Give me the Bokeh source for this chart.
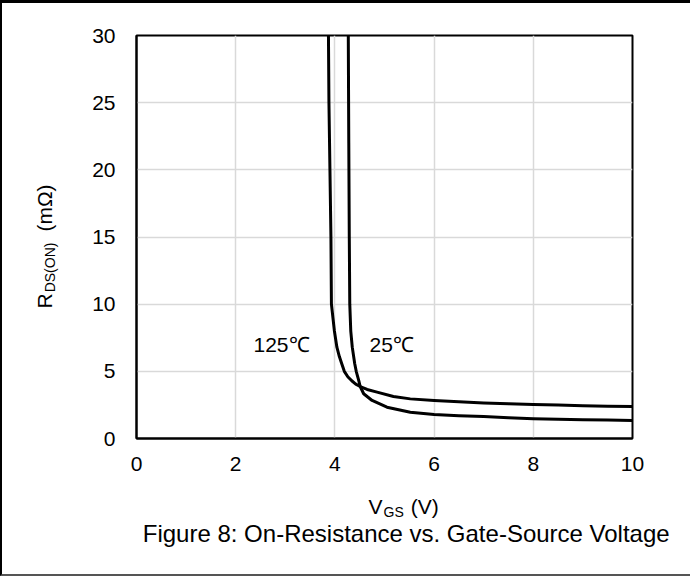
from bokeh.plotting import figure
from bokeh.models import Label, Range1d
from bokeh.embed import file_html
from bokeh.resources import INLINE

# ---- data ----
v_125 = [3.87, 3.88, 3.90, 3.92, 3.93, 3.96, 3.99, 4.04, 4.09, 4.14, 4.19, 4.26, 4.34, 4.42,
         4.51, 4.65, 4.85, 5.18, 5.52, 6.0, 6.5, 7.0, 7.5, 8.0, 8.5, 9.0, 9.5, 10.0]
r_125 = [30, 25, 20, 15, 10, 9.0, 8.0, 6.8, 6.1, 5.55, 5.0, 4.6, 4.3, 4.05,
         3.87, 3.65, 3.45, 3.13, 2.95, 2.83, 2.74, 2.64, 2.58, 2.53, 2.49, 2.44, 2.41, 2.38]
v_25 = [4.27, 4.28, 4.29, 4.30, 4.32, 4.35, 4.40, 4.43, 4.48, 4.51, 4.58, 4.75, 5.05, 5.52,
        6.0, 6.5, 7.0, 7.5, 8.0, 8.5, 9.0, 9.5, 10.0]
r_25 = [30, 22, 15, 10, 8.0, 6.8, 5.56, 5.0, 4.32, 3.87, 3.33, 2.83, 2.33, 1.96,
        1.79, 1.70, 1.63, 1.55, 1.47, 1.43, 1.40, 1.37, 1.34]
x_ticks = [0, 2, 4, 6, 8, 10]
y_ticks = [0, 5, 10, 15, 20, 25, 30]
series_labels = ["125℃", "25℃"]
title_text = "Figure 8: On-Resistance vs. Gate-Source Voltage"

FONT = "Liberation Sans"
TICK_FS = 21
LAB_FS = 21
SUB_FS = 14
TITLE_FS = 24
BASE_SHIFT = 8  # rendered labels sit this far below the requested baseline

CANVAS_X0, CANVAS_Y0 = 2, 3
W, H = 690, 576
MB_L, MB_R, MB_T, MB_B = 134, 60, 32, 141
FX0 = CANVAS_X0 + MB_L
FX1 = CANVAS_X0 + W - MB_R
FY0 = CANVAS_Y0 + MB_T
FY1 = CANVAS_Y0 + H - MB_B


def px2x(px):
    return (px - FX0) / (FX1 - FX0) * 10.0


def py2y(py):
    return (FY1 - py) / (FY1 - FY0) * 30.0


p = figure(width=W, height=H, x_range=Range1d(0, 10), y_range=Range1d(0, 30),
           output_backend="svg", toolbar_location=None,
           min_border_left=MB_L, min_border_right=MB_R,
           min_border_top=MB_T, min_border_bottom=MB_B)
p.styles = {"border-top": "3px solid black", "border-left": "2px solid black",
            "border-bottom": "2px solid #555555"}

p.outline_line_color = "black"
p.outline_line_width = 2
p.grid.grid_line_color = "#d9d9d9"
p.grid.grid_line_width = 1.5

for ax in (p.xaxis[0], p.yaxis[0]):
    ax.axis_line_color = "black"
    ax.axis_line_width = 2
    ax.major_tick_line_color = None
    ax.minor_tick_line_color = None
    ax.major_label_text_font = FONT
    ax.major_label_text_font_size = f"{TICK_FS}px"
    ax.major_label_text_color = "black"
p.xaxis.ticker = x_ticks
p.yaxis.ticker = y_ticks
p.xaxis.major_label_standoff = 12
p.yaxis.major_label_standoff = 15

p.line(v_125, r_125, line_color="black", line_width=3, line_join="round")
p.line(v_25, r_25, line_color="black", line_width=3, line_join="round")


def lab(x, y, text, fs, angle=0, align="left", place=None):
    l = Label(x=x, y=y, text=text, text_font=FONT, text_font_size=f"{fs}px",
              text_color="black", text_baseline="alphabetic", text_align=align,
              angle=angle, angle_units="deg")
    if place is None:
        p.add_layout(l)
    else:
        p.add_layout(l, place)


lab(px2x(253), py2y(351.7 - BASE_SHIFT), series_labels[0], LAB_FS)
lab(px2x(369), py2y(351.7 - BASE_SHIFT), series_labels[1], LAB_FS)

ADV = {"R": .722, "D": .722, "S": .667, "(": .333, ")": .333, "O": .778, "N": .722,
       " ": .278, "m": .833, "Ω": .768, "V": .667, "G": .778}


def width(s, fs):
    return sum(ADV.get(c, .556) for c in s) * fs


# caption (a label in the bottom panel, so it is not clipped)
lab(px2x(405.7), py2y(541.7 - 9), title_text, TITLE_FS, align="center", place="below")

# x-axis label  V_GS (V)   (pieces live in side panels so they are not clipped)
parts_x = [("V", LAB_FS, 0, 0, "left"), ("GS", SUB_FS, 5.5, 1, "right"),
           ("(V)", LAB_FS, 0, 7, "right")]
start = 368
for t, f, dy, gap, place in parts_x:
    start += gap
    lab(px2x(start), py2y(514 + dy - BASE_SHIFT), t, f, place=place)
    start += width(t, f)

# y-axis label  R_DS(ON) (mΩ), rotated
parts_y = [("R", LAB_FS, 0, 0), ("DS(ON)", SUB_FS, 5, 1), ("(mΩ)", LAB_FS, 0, 11)]
sy = 308
for t, f, dx, gap in parts_y:
    sy -= gap
    lab(px2x(52 + dx - BASE_SHIFT), py2y(sy), t, f, angle=90, place="left")
    sy -= width(t, f)

open("out.html", "w").write(file_html(p, INLINE))
